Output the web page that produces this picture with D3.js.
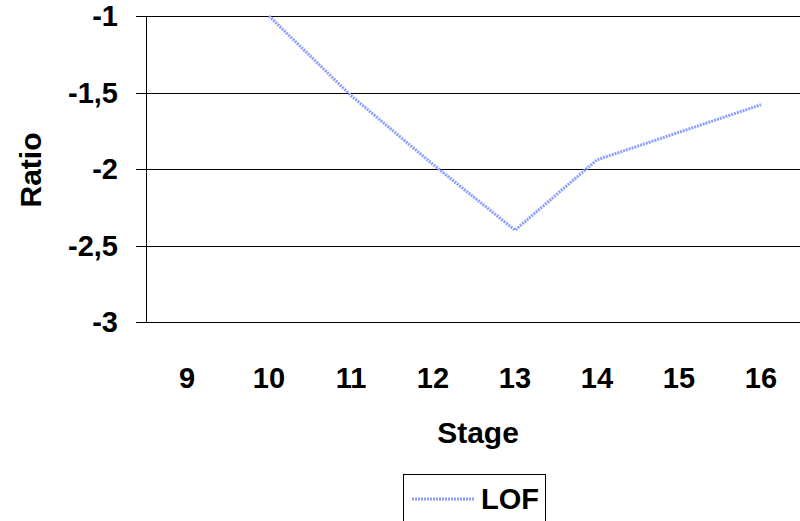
<!DOCTYPE html>
<html><head><meta charset="utf-8">
<script src="https://cdn.jsdelivr.net/npm/d3@7/dist/d3.min.js"></script>
<style>body{margin:0;background:#fff}svg{display:block}text{font-family:"Liberation Sans",Arial,sans-serif;font-weight:bold}</style>
</head><body>
<svg id="c" width="800" height="521"></svg>
<script>
const categories = ["9","10","11","12","13","14","15","16"];
const lofValues = [null, -1.0, -1.52, -1.97, -2.4, -1.94, -1.76, -1.58];
const yTicks = [-1, -1.5, -2, -2.5, -3];
const yTickLabels = ["-1", "-1,5", "-2", "-2,5", "-3"];
const seriesName = "LOF";

const svg = d3.select("#c");
const pLeft = 146, pRight = 802, pTop = 16, pBottom = 322;
const x = d3.scaleBand().domain(categories).range([pLeft, pRight]);
const y = d3.scaleLinear().domain([-3, -1]).range([pBottom, pTop]);

// gridlines
svg.append("g").selectAll("line").data(yTicks).join("line")
  .attr("x1", pLeft - 10).attr("x2", 800)
  .attr("y1", d => Math.round(y(d)) + 0.5).attr("y2", d => Math.round(y(d)) + 0.5)
  .attr("stroke", "#000").attr("stroke-width", 1);
// y axis line
svg.append("line").attr("x1", pLeft + 0.5).attr("x2", pLeft + 0.5)
  .attr("y1", pTop).attr("y2", pBottom + 0.5).attr("stroke", "#000");

// y tick labels
svg.append("g").selectAll("text").data(yTicks).join("text")
  .attr("x", 118).attr("y", d => y(d)).attr("dy", "0.36em")
  .attr("text-anchor", "end").attr("font-size", 29)
  .text((d, i) => yTickLabels[i]);

// x tick labels
svg.append("g").selectAll("text").data(categories).join("text")
  .attr("x", d => x(d) + x.bandwidth() / 2).attr("y", 378).attr("dy", "0.36em")
  .attr("text-anchor", "middle").attr("font-size", 29).text(d => d);

// axis titles
svg.append("text").attr("x", 478).attr("y", 432).attr("dy", "0.36em")
  .attr("text-anchor", "middle").attr("font-size", 30).text("Stage");
svg.append("text").attr("transform", "translate(30,170) rotate(-90)").attr("dy", "0.36em")
  .attr("text-anchor", "middle").attr("font-size", 30).text("Ratio");

// line
const line = d3.line().defined(d => d.v !== null)
  .x(d => x(d.c) + x.bandwidth() / 2).y(d => y(d.v));
svg.append("path").datum(categories.map((c, i) => ({c, v: lofValues[i]})))
  .attr("d", line).attr("fill", "none").attr("stroke", "#8c9fff")
  .attr("stroke-width", 3).attr("stroke-dasharray", "2,1");

// legend
svg.append("rect").attr("x", 403.5).attr("y", 474.5).attr("width", 142).attr("height", 60)
  .attr("fill", "none").attr("stroke", "#000");
svg.append("line").attr("x1", 412).attr("x2", 474).attr("y1", 499).attr("y2", 499)
  .attr("stroke", "#8c9fff").attr("stroke-width", 3).attr("stroke-dasharray", "2,1");
svg.append("text").attr("x", 481).attr("y", 499).attr("dy", "0.36em")
  .attr("font-size", 29).text(seriesName);
</script>
</body></html>
